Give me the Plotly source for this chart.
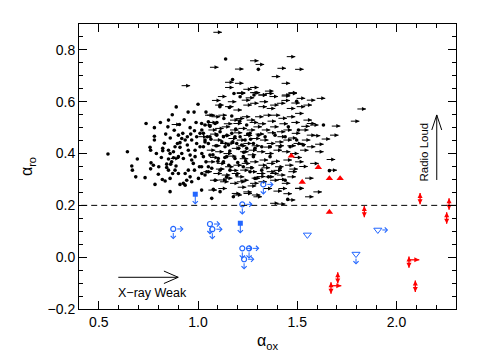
import plotly.graph_objects as go

# ---------------- data (alpha_ox, alpha_ro) ----------------
# black filled dots: detections
dot_aox = [0.546,0.644,0.738,0.851,0.848,0.906,0.78,0.78,0.837,0.758,0.761,0.694,0.666,0.669,0.686,0.733,0.783,0.859,
           0.834,0.859,0.822,0.822,0.763,0.775,0.761,0.802,0.842,0.851,0.842,0.867,0.876,0.851,0.876,0.859,0.884,0.896,
           0.909,0.935,0.946,0.951,0.918,0.901,0.926,0.96,0.968,0.976,0.985,0.993,1.01,1.019,1.027,1.04,1.007,0.982,
           0.951,0.935,0.901,0.884,0.96,0.943,0.926,0.935,0.909,0.968,1.002,1.019,1.044,1.052,0.985,0.968,0.993,1.01,
           1.019,1.035,1.052,1.047,1.035,0.923,0.901,0.963,0.982,0.946,0.918,0.909,0.889,0.872,0.862,0.851,
           1.111,1.158,1.181,1.212,1.018,1.027,1.035,1.027,1.052,1.06,1.086,1.094,1.111,1.128,1.136,1.153,1.17,1.186,
           1.195,1.212,1.22,1.237,1.245,1.262,1.279,1.287,1.304,1.321,1.338,1.363,1.388,1.413,1.439,1.455,1.464,1.497,
           1.506,1.531,1.06,1.102,1.144,1.186,1.228,1.279,1.363,1.018,1.035,1.069,1.086,1.111,1.128,1.144,1.161,1.195,
           1.228,1.262,1.287,1.321,1.355,1.413,1.439,1.069,1.178,1.018,
           1.139,1.304,1.174,1.282,1.11,1.497,1.632,1.662,1.077,1.111,1.452,
           1.065,1.09,1.12,1.145,1.16,1.175,1.19,1.205,1.23,1.25,1.265,1.075,1.1,1.135,1.155,1.2,1.24,1.27,1.06,1.095,
           1.13,1.17,1.21,1.245,0.99,0.96,0.93,0.88,0.86,0.83,0.815,0.79,0.8,0.82,0.98,1.0,1.04,0.95,0.87,0.89,0.81,0.78]
dot_aro = [0.398,0.407,0.516,0.529,0.503,0.512,0.467,0.452,0.475,0.424,0.413,0.379,0.352,0.336,0.31,0.307,0.281,0.253,
           0.294,0.304,0.42,0.411,0.364,0.355,0.341,0.349,0.346,0.336,0.359,0.368,0.384,0.413,0.407,0.4,0.426,0.439,
           0.442,0.452,0.433,0.413,0.4,0.388,0.381,0.394,0.375,0.362,0.413,0.439,0.426,0.4,0.388,0.368,0.349,0.336,
           0.336,0.323,0.323,0.336,0.31,0.297,0.285,0.278,0.281,0.291,0.304,0.323,0.33,0.349,0.388,0.452,0.465,0.478,
           0.491,0.51,0.523,0.465,0.445,0.478,0.471,0.475,0.488,0.465,0.458,0.424,0.352,0.323,0.359,0.379,
           0.587,0.578,0.632,0.619,0.516,0.478,0.452,0.426,0.439,0.465,0.516,0.471,0.484,0.465,0.426,0.433,0.478,0.465,
           0.439,0.465,0.433,0.452,0.42,0.478,0.439,0.42,0.471,0.426,0.465,0.426,0.471,0.426,0.465,0.503,0.426,0.452,
           0.491,0.433,0.394,0.381,0.388,0.381,0.388,0.388,0.388,0.349,0.317,0.343,0.297,0.336,0.368,0.31,0.336,0.317,
           0.349,0.33,0.304,0.336,0.31,0.343,0.297,0.227,0.233,0.259,
           0.765,0.725,0.686,0.626,0.581,0.602,0.51,0.334,0.262,0.253,0.223,
           0.455,0.43,0.445,0.47,0.41,0.445,0.495,0.42,0.405,0.475,0.455,0.395,0.37,0.385,0.355,0.365,0.37,0.345,0.505,0.52,
           0.535,0.545,0.525,0.51,0.52,0.5,0.53,0.49,0.46,0.44,0.385,0.4,0.32,0.3,0.56,0.59,0.56,0.56,0.55,0.58,0.52,0.5]

# black arrows: lower limits on alpha_ox
lim_aox = [1.195,1.27,1.304,1.338,1.422,1.455,1.497,1.035,1.086,1.136,1.178,1.22,1.228,1.262,1.304,1.346,1.363,1.397,
           1.447,1.497,1.531,1.548,1.069,1.102,1.161,1.178,1.22,1.245,1.287,1.329,1.371,1.405,1.447,1.489,1.531,1.548,
           1.052,1.086,1.119,1.161,1.203,1.245,1.279,1.321,1.363,1.397,1.43,1.472,1.514,1.548,1.077,1.111,1.153,1.195,
           1.228,1.27,1.312,1.346,1.388,1.43,1.481,1.523,1.044,1.086,1.128,1.17,1.212,1.254,1.296,1.338,1.38,1.422,
           1.464,1.514,1.548,1.044,1.094,1.136,1.178,1.22,1.262,1.304,1.346,1.388,1.438,1.489,1.027,1.077,1.119,1.17,
           1.212,1.254,1.296,1.346,1.397,1.455,1.06,1.111,1.161,1.212,1.262,1.304,1.363,1.422,1.052,1.102,1.17,1.228,
           1.279,1.405,1.489,1.539,
           1.077,1.06,0.917,1.262,1.29,1.186,1.40,1.489,1.447,1.371,1.136,1.186,1.136,1.195,1.228,1.262,1.337,1.304,
           1.262,1.421,1.455,1.421,1.598,
           1.803,1.77,1.674,1.665,1.623,1.59,1.648,1.565,1.564,1.573,1.59,1.657,1.581,1.447,1.539,
           0.867,1.027,1.044,1.002,0.862,
           1.103,1.195,1.178,1.229,1.271,1.363,1.397,1.489,1.296,1.363,
           1.07,1.10,1.15,1.24,1.31,1.36,1.42,1.47,1.05,1.13,1.19,1.26,1.30,1.35,1.41,1.47,1.52,1.06,1.12,1.18,1.23,
           1.29,1.35,1.40,1.455,1.07,1.14,1.20,1.27,1.33,1.39,1.45,1.50,1.06,1.15,1.21,1.25,1.31,1.37,1.43,1.48,1.09,
           1.16,1.24,1.32,1.38,1.46,1.51,1.13,1.19,1.27,1.34,1.40,1.45,1.20,1.25,1.33,1.38,1.43]
lim_aro = [0.632,0.635,0.626,0.632,0.626,0.632,0.613,0.548,0.587,0.581,0.568,0.606,0.587,0.594,0.581,0.574,0.587,0.594,
           0.574,0.581,0.587,0.606,0.542,0.548,0.529,0.516,0.542,0.529,0.542,0.548,0.548,0.536,0.542,0.555,0.529,0.516,
           0.491,0.497,0.503,0.491,0.497,0.491,0.503,0.491,0.503,0.484,0.491,0.478,0.491,0.471,0.452,0.439,0.458,0.452,
           0.439,0.458,0.452,0.439,0.445,0.452,0.439,0.452,0.413,0.407,0.4,0.42,0.407,0.413,0.407,0.4,0.413,0.407,
           0.4,0.413,0.426,0.368,0.362,0.349,0.355,0.362,0.368,0.355,0.362,0.349,0.355,0.368,0.33,0.323,0.317,0.323,
           0.336,0.33,0.323,0.33,0.317,0.33,0.297,0.291,0.285,0.297,0.285,0.291,0.297,0.285,0.259,0.265,0.246,0.252,
           0.233,0.265,0.265,0.233,
           0.868,0.733,0.662,0.758,0.744,0.726,0.729,0.725,0.774,0.697,0.675,0.671,0.655,0.635,0.648,0.655,0.641,0.626,
           0.635,0.671,0.635,0.622,0.613,
           0.572,0.525,0.506,0.471,0.456,0.436,0.377,0.362,0.51,0.469,0.407,0.336,0.252,0.221,0.305,
           0.512,0.51,0.548,0.465,0.381,
           0.298,0.291,0.24,0.246,0.24,0.208,0.205,0.266,0.311,0.323,
           0.605,0.62,0.60,0.615,0.60,0.62,0.605,0.595,0.52,0.515,0.535,0.52,0.515,0.525,0.515,0.52,0.505,0.475,0.47,0.48,
           0.47,0.475,0.48,0.465,0.46,0.43,0.44,0.43,0.43,0.425,0.43,0.43,0.435,0.385,0.39,0.38,0.395,0.375,0.37,0.375,
           0.385,0.34,0.335,0.345,0.345,0.335,0.34,0.35,0.305,0.31,0.305,0.31,0.30,0.31,0.27,0.275,0.265,0.255,0.245]

# blue open circles: upper limit on alpha_ro, lower limit on alpha_ox
bc_aox = [0.875, 1.06, 1.072, 1.223, 1.329, 1.223, 1.257, 1.232]
bc_aro = [0.109, 0.128, 0.108, 0.204, 0.281, 0.034, 0.034, -0.008]
# blue filled squares: upper limit on alpha_ro
bs_aox = [0.986, 1.213]
bs_aro = [0.243, 0.131]
# blue open triangles
bt_aox = [1.551, 1.906, 1.796]
bt_aro = [0.086, 0.105, 0.012]
bt_limit = ["none", "right", "down"]
# red filled triangles
rt_aox = [1.47, 1.606, 1.525, 1.662, 1.716, 1.662]
rt_aro = [0.391, 0.347, 0.29, 0.304, 0.304, 0.174]
# red double-limit symbols
rr_aox = [1.838, 2.119, 2.265, 2.253, 2.063, 1.704, 1.67, 2.095]
rr_aro = [0.176, 0.226, 0.205, 0.151, -0.019, -0.08, -0.119, -0.112]
rr_right = [False, False, False, False, True, False, True, False]

# ---------------- styles ----------------
BLUE = "#2266ff"
RED = "#ff0000"
FONT = "Liberation Sans, Arial, Helvetica, sans-serif"
ARR_DX = 0.043      # black arrow length (alpha_ox units)
LIM_DX = 0.052      # coloured right arrow length
LIM_DY = 0.040      # coloured down arrow length
RNG_DY = 0.022      # half-length of red double arrows

fig = go.Figure()

# black arrows (shaft + head)
sx, sy = [], []
for x, y in zip(lim_aox, lim_aro):
    sx += [x, x + ARR_DX, None]
    sy += [y, y, None]
fig.add_trace(go.Scatter(x=sx, y=sy, mode="lines", line=dict(color="black", width=1),
                         hoverinfo="skip", showlegend=False))
fig.add_trace(go.Scatter(x=[x + ARR_DX for x in lim_aox], y=lim_aro, mode="markers",
                         marker=dict(symbol="arrow-right", size=4, color="black", line=dict(width=0)),
                         hoverinfo="skip", showlegend=False))
# black dots
fig.add_trace(go.Scatter(x=dot_aox, y=dot_aro, mode="markers",
                         marker=dict(symbol="circle", size=3.6, color="black", line=dict(width=0)),
                         showlegend=False))

annotations = []

def arrow(x0, y0, x1, y1, color, head=4, size=1.0, width=1.0, start=0):
    annotations.append(dict(x=x1, y=y1, ax=x0, ay=y0, xref="x", yref="y", axref="x", ayref="y",
                            text="", showarrow=True, arrowhead=head, arrowsize=size, arrowwidth=width,
                            arrowcolor=color, startstandoff=start))

# blue circles with limits
for x, y in zip(bc_aox, bc_aro):
    arrow(x, y, x, y - LIM_DY, BLUE, start=2.5)
    arrow(x, y, x + LIM_DX, y, BLUE, start=2.5)
fig.add_trace(go.Scatter(x=bc_aox, y=bc_aro, mode="markers",
                         marker=dict(symbol="circle-open", size=5, color=BLUE, line=dict(width=1.2)),
                         showlegend=False))
# blue squares
for x, y in zip(bs_aox, bs_aro):
    arrow(x, y, x, y - LIM_DY, BLUE)
fig.add_trace(go.Scatter(x=bs_aox, y=bs_aro, mode="markers",
                         marker=dict(symbol="square", size=5, color=BLUE), showlegend=False))
# blue triangles
for x, y, k in zip(bt_aox, bt_aro, bt_limit):
    if k == "right":
        arrow(x, y, x + LIM_DX, y, BLUE, start=3)
    elif k == "down":
        arrow(x, y, x, y - LIM_DY, BLUE, start=3)
fig.add_trace(go.Scatter(x=bt_aox, y=bt_aro, mode="markers",
                         marker=dict(symbol="triangle-down-open", size=7, color=BLUE, line=dict(width=1)),
                         showlegend=False))
# red triangles
fig.add_trace(go.Scatter(x=rt_aox, y=rt_aro, mode="markers",
                         marker=dict(symbol="triangle-up", size=6.5, color=RED, line=dict(width=0)),
                         showlegend=False))
# red double arrows: shafts + heads drawn as scatter
rx, ry = [], []
for x, y, r in zip(rr_aox, rr_aro, rr_right):
    rx += [x, x, None]
    ry += [y - RNG_DY, y + RNG_DY, None]
    if r:
        rx += [x, x + LIM_DX, None]
        ry += [y + RNG_DY * 0.4, y + RNG_DY * 0.4, None]
fig.add_trace(go.Scatter(x=rx, y=ry, mode="lines", line=dict(color=RED, width=1.3),
                         hoverinfo="skip", showlegend=False))
fig.add_trace(go.Scatter(x=rr_aox, y=[y + RNG_DY for y in rr_aro], mode="markers",
                         marker=dict(symbol="arrow-up", size=5, color=RED, line=dict(width=0)),
                         hoverinfo="skip", showlegend=False))
fig.add_trace(go.Scatter(x=rr_aox, y=[y - RNG_DY for y in rr_aro], mode="markers",
                         marker=dict(symbol="arrow-down", size=5, color=RED, line=dict(width=0)),
                         hoverinfo="skip", showlegend=False))
fig.add_trace(go.Scatter(x=[x + LIM_DX for x, r in zip(rr_aox, rr_right) if r],
                         y=[y + RNG_DY * 0.4 for y, r in zip(rr_aro, rr_right) if r], mode="markers",
                         marker=dict(symbol="arrow-right", size=5, color=RED, line=dict(width=0)),
                         hoverinfo="skip", showlegend=False))

# text labels
annotations.append(dict(x=0.77, y=-0.139, xref="x", yref="y", text="X\u2212ray Weak", showarrow=False,
                        font=dict(family=FONT, size=12.5, color="black")))
annotations.append(dict(x=2.134, y=0.404, xref="x", yref="y", text="Radio Loud", showarrow=False,
                        textangle=-90, font=dict(family=FONT, size=11.5, color="black")))

# big guide arrows (shapes)
XW = dict(x0=0.598, x1=0.90, y=-0.0776, hx=0.072, hy=0.024)
RL = dict(x=2.203, y0=0.298, y1=0.549, hx=0.025, hy=0.058)
shapes = [
    dict(type="line", xref="x", yref="y", x0=-1, x1=3, y0=0.2, y1=0.2,
         line=dict(color="black", width=1, dash="6px,4px")),
    dict(type="path", xref="x", yref="y",
         path=f"M{XW['x0']},{XW['y']} L{XW['x1']},{XW['y']} M{XW['x1']-XW['hx']},{XW['y']+XW['hy']} "
              f"L{XW['x1']},{XW['y']} L{XW['x1']-XW['hx']},{XW['y']-XW['hy']}",
         line=dict(color="black", width=1)),
    dict(type="path", xref="x", yref="y",
         path=f"M{RL['x']},{RL['y0']} L{RL['x']},{RL['y1']} M{RL['x']-RL['hx']},{RL['y1']-RL['hy']} "
              f"L{RL['x']},{RL['y1']} L{RL['x']+RL['hx']},{RL['y1']-RL['hy']}",
         line=dict(color="black", width=1)),
]

axis_common = dict(showline=True, linecolor="black", linewidth=1, mirror="ticks", ticks="inside",
                   ticklen=8, tickwidth=1, tickcolor="black", showgrid=False, zeroline=False,
                   tickfont=dict(family=FONT, size=14, color="black"))

fig.update_layout(
    width=480, height=360,
    margin=dict(l=79, r=24, t=24, b=51),
    paper_bgcolor="white", plot_bgcolor="white",
    xaxis=dict(range=[0.4, 2.3], tick0=0.5, dtick=0.5, tickformat=".1f",
               minor=dict(ticks="inside", ticklen=4, dtick=0.1, tickcolor="black", tickwidth=1),
               title=dict(text="\u03b1<sub>ox</sub>", font=dict(family=FONT, size=16, color="black"), standoff=6),
               **axis_common),
    yaxis=dict(range=[-0.2, 0.9], tick0=0, dtick=0.2, tickformat=".1f",
               minor=dict(ticks="inside", ticklen=4, dtick=0.05, tickcolor="black", tickwidth=1),
               title=dict(text="\u03b1<sub>ro</sub>", font=dict(family=FONT, size=16, color="black"), standoff=10),
               **axis_common),
    annotations=annotations,
    shapes=shapes,
    showlegend=False,
)

fig.write_html("out.html", config={"displayModeBar": False},
               post_script="document.body.style.margin='0px';")
